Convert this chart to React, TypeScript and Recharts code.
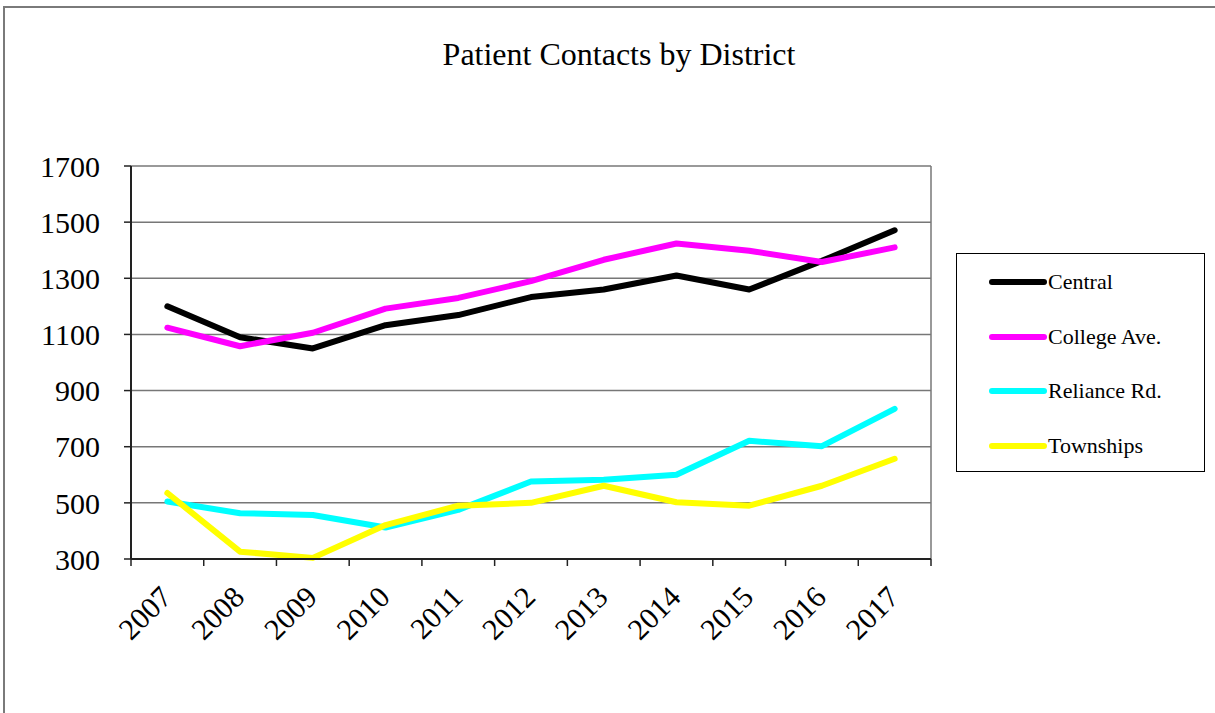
import React from 'react';
import {
  LineChart,
  Line,
  XAxis,
  YAxis,
  CartesianGrid,
  Legend,
  ReferenceLine,
} from 'recharts';

const YEARS = [2007, 2008, 2009, 2010, 2011, 2012, 2013, 2014, 2015, 2016, 2017];
const CENTRAL = [1200, 1090, 1050, 1133, 1169, 1233, 1260, 1310, 1260, 1362, 1471];
const COLLEGE = [1124, 1058, 1106, 1192, 1230, 1290, 1366, 1424, 1398, 1358, 1410];
const RELIANCE = [505, 463, 457, 412, 475, 576, 582, 600, 721, 702, 835];
const TOWNSHIPS = [535, 326, 304, 421, 490, 500, 561, 502, 490, 561, 657];
const Y_TICKS = [300, 500, 700, 900, 1100, 1300, 1500, 1700];

const SERIES = [
  { key: 'central', name: 'Central', color: '#000000', values: CENTRAL },
  { key: 'college', name: 'College Ave.', color: '#FF00FF', values: COLLEGE },
  { key: 'reliance', name: 'Reliance Rd.', color: '#00FFFF', values: RELIANCE },
  { key: 'townships', name: 'Townships', color: '#FFFF00', values: TOWNSHIPS },
];

const data = YEARS.map((year, i) => {
  const row: Record<string, number> = { year };
  SERIES.forEach((s) => {
    row[s.key] = s.values[i];
  });
  return row;
});

// tick marks sit between the years, labels sit on the years
const xTicks = [...YEARS.flatMap((y) => [y - 0.5, y]), YEARS[YEARS.length - 1] + 0.5];

const FONT = '"Liberation Serif", "Times New Roman", serif';

const XTick = (props: any) => {
  const { x, y, payload } = props;
  if (!Number.isInteger(payload.value)) {
    return <line x1={x} y1={y} x2={x} y2={y + 7} stroke="#222" strokeWidth={1.5} />;
  }
  const tx = x + 6;
  const ty = y + 40;
  return (
    <text
      x={tx}
      y={ty}
      transform={`rotate(-45, ${tx}, ${ty})`}
      textAnchor="end"
      fontFamily={FONT}
      fontSize={30}
      fill="#000"
    >
      {payload.value}
    </text>
  );
};

const LegendBox = (props: any) => {
  const { payload } = props;
  return (
    <div
      style={{
        position: 'relative',
        width: 247,
        height: 217,
        border: '1px solid #000',
        background: '#fff',
        fontFamily: FONT,
        fontSize: 22,
      }}
    >
      {(payload || []).map((entry: any, i: number) => (
        <div
          key={entry.value}
          style={{
            position: 'absolute',
            left: 30,
            top: 29 + i * 54.5 - 15,
            height: 28,
            display: 'flex',
            alignItems: 'center',
            whiteSpace: 'nowrap',
          }}
        >
          <svg width={62} height={10} style={{ display: 'block' }}>
            <line x1={5} y1={5} x2={57} y2={5} stroke={entry.color} strokeWidth={6} strokeLinecap="round" />
          </svg>
          <span style={{ marginLeft: -1, color: '#000' }}>{entry.value}</span>
        </div>
      ))}
    </div>
  );
};

export default function App() {
  return (
    <div
      style={{
        position: 'absolute',
        left: 0,
        top: 0,
        width: 1215,
        height: 713,
        overflow: 'hidden',
        background: '#fff',
      }}
    >
      <div
        style={{
          position: 'absolute',
          left: 3,
          top: 6,
          width: 1300,
          height: 800,
          border: '2px solid #7a7a7a',
        }}
      />
      <div
        style={{
          position: 'absolute',
          left: 0,
          top: 36,
          width: 1238,
          textAlign: 'center',
          fontFamily: FONT,
          fontSize: 32,
          color: '#000',
        }}
      >
        Patient Contacts by District
      </div>
      <div style={{ position: 'absolute', left: 0, top: 0 }}>
        <LineChart
          width={1215}
          height={713}
          data={data}
          margin={{ top: 166, right: 284, bottom: 0, left: 0 }}
        >
          <CartesianGrid vertical={false} stroke="#777" strokeWidth={1.5} />
          <XAxis
            dataKey="year"
            type="number"
            domain={[YEARS[0] - 0.5, YEARS[YEARS.length - 1] + 0.5]}
            ticks={xTicks}
            interval={0}
            tick={<XTick />}
            tickLine={false}
            tickSize={0}
            tickMargin={0}
            height={154}
            axisLine={{ stroke: '#222', strokeWidth: 2 }}
          />
          <YAxis
            domain={[300, 1700]}
            ticks={Y_TICKS}
            interval={0}
            width={131}
            tickSize={7}
            tickMargin={24}
            tickLine={{ stroke: '#222', strokeWidth: 1.5 }}
            axisLine={{ stroke: '#222', strokeWidth: 2 }}
            tick={{ fill: '#000', fontSize: 30, fontFamily: FONT }}
          />
          <ReferenceLine x={YEARS[YEARS.length - 1] + 0.5} stroke="#777" strokeWidth={1.5} />
          {SERIES.map((s) => (
            <Line
              key={s.key}
              dataKey={s.key}
              name={s.name}
              stroke={s.color}
              strokeWidth={6}
              strokeLinecap="round"
              strokeLinejoin="round"
              dot={false}
              activeDot={false}
              type="linear"
              isAnimationActive={false}
            />
          ))}
          <Legend
            layout="vertical"
            align="center"
            verticalAlign="middle"
            content={<LegendBox />}
            wrapperStyle={{ left: 956, top: 253, width: 249, height: 219 }}
          />
        </LineChart>
      </div>
    </div>
  );
}
